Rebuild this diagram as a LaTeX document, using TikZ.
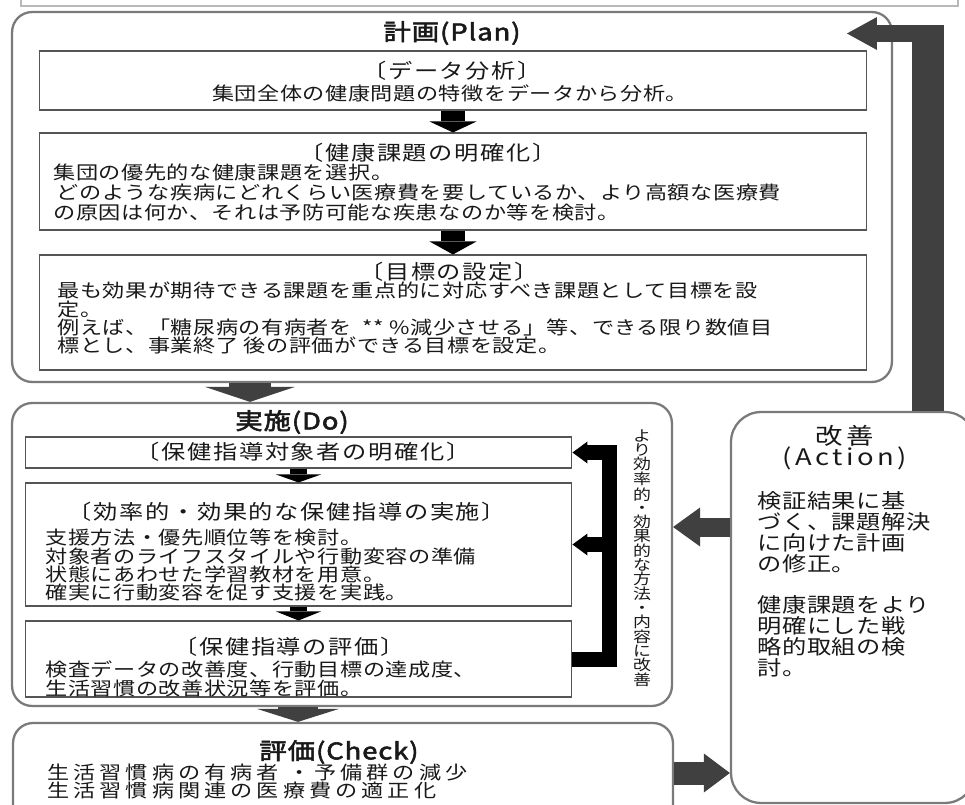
\documentclass[tikz,border=0pt]{standalone}
\usepackage{fontspec}
\setmainfont{Noto Sans CJK JP}
\newfontfamily\jpbody[FakeStretch=1.2,LetterSpace=3]{Noto Sans CJK JP}
\newfontfamily\jphead[FakeStretch=1.2,LetterSpace=8]{Noto Sans CJK JP}
\newfontfamily\jpwide[FakeStretch=1.2,LetterSpace=22]{Noto Sans CJK JP}
\newfontfamily\jpttl[FakeStretch=1.2,FakeBold=2.5,LetterSpace=4]{Noto Sans CJK JP}
\newfontfamily\jpactttl[FakeStretch=1.2,LetterSpace=15]{Noto Sans CJK JP}
\usetikzlibrary{arrows.meta}
\definecolor{arrowgray}{HTML}{404040}
\definecolor{framegray}{HTML}{7A7A7A}
\definecolor{boxline}{HTML}{555555}

\begin{document}
\begin{tikzpicture}[x=0.02cm,y=-0.02cm,
  phase/.style={draw=framegray,line width=1.3pt,fill=white,inner sep=0pt},
  stepbox/.style={draw=boxline,line width=0.6pt,fill=white,inner sep=0pt},
  phasettl/.style={font=\jpttl\fontsize{13}{14}\selectfont,text=black!90,inner sep=0pt},
  boxttl/.style={font=\jphead\fontsize{11.5}{12}\selectfont,text=black!90,inner sep=0pt},
  bodytxt/.style={font=\jpbody\fontsize{10.5}{11.3}\selectfont,text=black!90,align=left,anchor=north west,inner sep=0pt},
  barrow/.style n args={4}{draw=#1,line width=#2,-{Triangle[width=#3,length=#4,line width=0pt]}},
  fbline/.style={draw=black,line width=0.3cm,line join=miter,-{Triangle[width=0.44cm,length=0.3cm,line width=0pt]}}]
  \fill[white] (0,0) rectangle (965,805);
  \useasboundingbox (0,0) rectangle (965,805);
  \draw[gray!55,line width=0.8pt] (21,-30) rectangle (958,6);

  % 計画
  \node[phase,rounded corners=0.4cm,minimum width=17.6cm,minimum height=7.4cm] (plan) at (452,197) {};
  \node[phasettl] (planttl) at (452,33) {計画(Plan)};
  \node[stepbox,minimum width=16.56cm,minimum height=1.18cm] (p1) at (453,80.5) {};
  \node[boxttl] (p1ttl) at (452,71) {〔データ分析〕};
  \node[bodytxt,anchor=center] (p1txt) at (450,93) {集団全体の健康問題の特徴をデータから分析。};
  \node[stepbox,minimum width=16.56cm,minimum height=1.94cm] (p2) at (453,181.5) {};
  \node[boxttl] (p2ttl) at (428,153) {〔健康課題の明確化〕};
  \node[bodytxt] (p2txt) at (53,164) {集団の優先的な健康課題を選択。\\
    \hspace{2pt}どのような疾病にどれくらい医療費を要しているか、より高額な医療費\\
    の原因は何か、それは予防可能な疾患なのか等を検討。};
  \node[stepbox,minimum width=16.56cm,minimum height=2.3cm] (p3) at (453,312.5) {};
  \node[boxttl] (p3ttl) at (449,272) {〔目標の設定〕};
  \node[bodytxt,font=\jpbody\fontsize{10.5}{10.3}\selectfont] (p3txt) at (57,282) {最も効果が期待できる課題を重点的に対応すべき課題として目標を設\\
    定。\\
    例えば、「糖尿病の有病者を \ **\ \%減少させる」等、できる限り数値目\\
    標とし、事業終了 後の評価ができる目標を設定。};

  % 実施
  \node[phase,rounded corners=0.4cm,minimum width=13.2cm,minimum height=6.06cm] (do) at (342,554.5) {};
  \node[phasettl] (dottl) at (292,422) {実施(Do)};
  \node[stepbox,minimum width=10.94cm,minimum height=0.62cm] (d1) at (298.5,452.5) {};
  \node[boxttl] (d1ttl) at (303,452) {〔保健指導対象者の明確化〕};
  \node[stepbox,minimum width=10.94cm,minimum height=2.46cm] (d2) at (298.5,544.5) {};
  \node[boxttl] (d2ttl) at (287,512) {〔効率的・効果的な保健指導の実施〕};
  \node[bodytxt,font=\jpbody\fontsize{10.5}{10.3}\selectfont] (d2txt) at (45,529) {支援方法・優先順位等を検討。\\
    対象者のライフスタイルや行動変容の準備\\
    状態にあわせた学習教材を用意。\\
    確実に行動変容を促す支援を実践。};
  \node[stepbox,minimum width=10.94cm,minimum height=1.52cm] (d3) at (298.5,659) {};
  \node[boxttl] (d3ttl) at (289,647) {〔保健指導の評価〕};
  \node[bodytxt,font=\jpbody\fontsize{10.5}{10.8}\selectfont] (d3txt) at (45,660) {検査データの改善度、行動目標の達成度、\\
    生活習慣の改善状況等を評価。};
  \node[align=center,inner sep=0pt,text=black!90,font=\jpbody\fontsize{8.5}{7.8}\selectfont] (vtxt) at (642,558.5)
    {よ\\り\\効\\率\\的\\・\\効\\果\\的\\な\\方\\法\\・\\内\\容\\に\\改\\善};

  % 評価
  \node[phase,rounded corners=0.4cm,minimum width=13.2cm,minimum height=2.14cm] (check) at (343,776.5) {};
  \node[phasettl] (checkttl) at (339,752) {評価(Check)};
  \node[bodytxt,font=\jpwide\fontsize{10.5}{10.2}\selectfont] (checktxt) at (47,764) {生活習慣病の有病者 ・予備群の減少\\
    生活習慣病関連の医療費の適正化};

  % 改善
  \node[phase,rounded corners=0.6cm,minimum width=4.88cm,minimum height=7.82cm] (act) at (853,607.5) {};
  \node[align=center,inner sep=0pt,text=black!90,font=\jpactttl\fontsize{13}{11.9}\selectfont] (actttl) at (845,447.5) {改善\\(Action)};
  \node[bodytxt,font=\jpbody\fontsize{11.5}{11.9}\selectfont] (acttxt) at (757,491) {検証結果に基\\
    づく、課題解決\\
    に向けた計画\\
    の修正。\\[11.9pt]
    健康課題をより\\
    明確にした戦\\
    略的取組の検\\
    討。};

  % 矢印
  \draw[barrow={black}{0.5cm}{0.94cm}{0.22cm}] (p1.south) -- (p2.north);
  \draw[barrow={black}{0.5cm}{0.94cm}{0.26cm}] (p2.south) -- (p3.north);
  \draw[barrow={black}{0.36cm}{0.9cm}{0.16cm}] (d1.south) -- (d2.north);
  \draw[barrow={black}{0.36cm}{0.9cm}{0.18cm}] (d2.south) -- (d3.north);
  \coordinate (fb) at (609,0);
  \draw[fbline] (d3.east) -| (fb |- d1.east) -- (d1.east);
  \draw[fbline] (fb |- d2.east) -- (d2.east);
  \coordinate (gx1) at (250,0);
  \coordinate (gx2) at (298,0);
  \coordinate (ay1) at (0,773);
  \coordinate (ay2) at (0,527);
  \draw[barrow={arrowgray}{0.86cm}{1.8cm}{0.3cm}] (plan.south -| gx1) -- (do.north -| gx1);
  \draw[barrow={arrowgray}{0.8cm}{1.64cm}{0.26cm}] (do.south -| gx2) -- (check.north -| gx2);
  \draw[barrow={arrowgray}{0.46cm}{0.78cm}{0.52cm}] (check.east |- ay1) -- (act.west |- ay1);
  \draw[barrow={arrowgray}{0.38cm}{0.78cm}{0.54cm}] (act.west |- ay2) -- (do.east |- ay2);
  \coordinate (bartop) at (928,25);
  \coordinate (hook) at (944,33.5);
  \coordinate (plantip) at (847,33.5);
  \draw[arrowgray,line width=0.64cm] (act.north -| bartop) -- (bartop);
  \draw[barrow={arrowgray}{0.34cm}{0.66cm}{0.6cm}] (hook) -- (plantip);
\end{tikzpicture}
\end{document}
